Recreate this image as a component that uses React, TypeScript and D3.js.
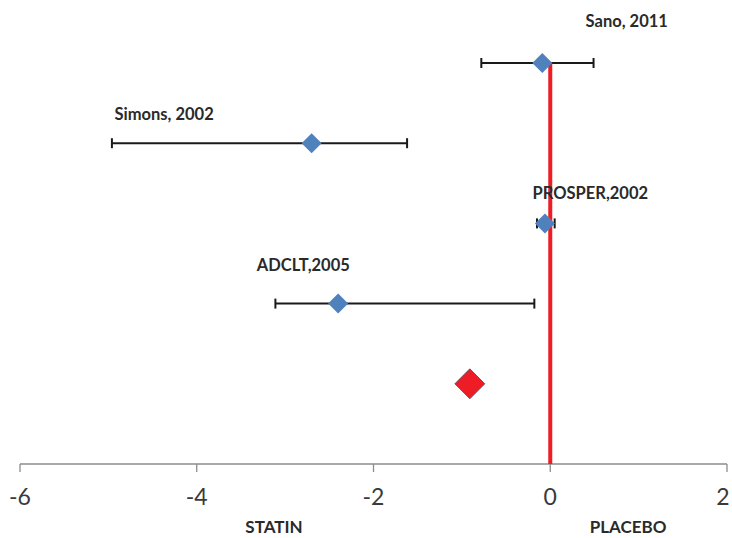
import React from "react";
import * as d3 from "d3";

const studies = ["Sano, 2011", "Simons, 2002", "PROSPER,2002", "ADCLT,2005"];
const rowIndex = [5, 4, 3, 2];
const effect = [-0.09, -2.7, -0.06, -2.4];
const lower = [-0.78, -4.96, -0.15, -3.11];
const upper = [0.49, -1.62, 0.05, -0.18];
const pooledEffect = -0.91;
const pooledRow = 1;
const xTicks = [-6, -4, -2, 0, 2];
const sideLabels = ["STATIN", "PLACEBO"];
// layout for data labels (data-unit x start, pixel offset above the row)
const labelStartX = [0.4, -4.93, -0.2, -3.32];
const labelDy = [-36, -23, -24, -33];

const W = 732;
const H = 538;

export default function App() {
  const x = d3.scaleLinear().domain([-6, 2]).range([20, 727]);
  const y = d3.scaleLinear().domain([0, 5]).range([464, 63]);
  const diamond = (cx: number, cy: number, r: number) =>
    `M${cx},${cy - r}L${cx + r},${cy}L${cx},${cy + r}L${cx - r},${cy}Z`;
  const fontFamily = "Lato, 'Open Sans', sans-serif";
  return (
    <svg
      width={W}
      height={H}
      style={{ position: "absolute", left: 0, top: 0, background: "#fff" }}
    >
      {/* axis */}
      <line x1={x(-6)} x2={x(2)} y1={y(0)} y2={y(0)} stroke="#8c8c8c" strokeWidth={1.3} />
      {xTicks.map((t) => (
        <g key={t}>
          <line x1={x(t)} x2={x(t)} y1={y(0)} y2={y(0) + 8} stroke="#8c8c8c" strokeWidth={1.3} />
          <text
            x={Math.min(x(t), W - 9)}
            y={505}
            textAnchor="middle"
            fontSize={23}
            fill="#3a3a3a"
            fontFamily={fontFamily}
          >
            {t}
          </text>
        </g>
      ))}
      <text x={274} y={533} textAnchor="middle" fontSize={17} fontWeight="bold" fill="#2a2a2a" fontFamily={fontFamily}>
        {sideLabels[0]}
      </text>
      <text x={628} y={533} textAnchor="middle" fontSize={17} fontWeight="bold" fill="#2a2a2a" fontFamily={fontFamily}>
        {sideLabels[1]}
      </text>
      {/* error bars */}
      {studies.map((s, i) => {
        const cy = y(rowIndex[i]);
        return (
          <g key={s}>
            <line x1={x(lower[i])} x2={x(upper[i])} y1={cy} y2={cy} stroke="#1a1a1a" strokeWidth={2} />
            <line x1={x(lower[i])} x2={x(lower[i])} y1={cy - 5} y2={cy + 5} stroke="#1a1a1a" strokeWidth={2} />
            <line x1={x(upper[i])} x2={x(upper[i])} y1={cy - 5} y2={cy + 5} stroke="#1a1a1a" strokeWidth={2} />
          </g>
        );
      })}
      {/* reference line */}
      <line x1={x(0)} x2={x(0)} y1={y(5)} y2={y(0)} stroke="#ee1c25" strokeWidth={4} />
      {/* points */}
      {studies.map((s, i) => (
        <path key={s} d={diamond(x(effect[i]), y(rowIndex[i]), 10)} fill="#4f81bd" />
      ))}
      <path
        d={diamond(x(pooledEffect), y(pooledRow), 15)}
        fill="#ee1c25"
        stroke="#4a4a6a"
        strokeWidth={0.8}
      />
      {/* labels */}
      {studies.map((s, i) => (
        <text
          key={s}
          x={x(labelStartX[i])}
          y={y(rowIndex[i]) + labelDy[i]}
          fontSize={16.5}
          fontWeight="bold"
          fill="#2a2a2a"
          fontFamily={fontFamily}
        >
          {s}
        </text>
      ))}
    </svg>
  );
}
